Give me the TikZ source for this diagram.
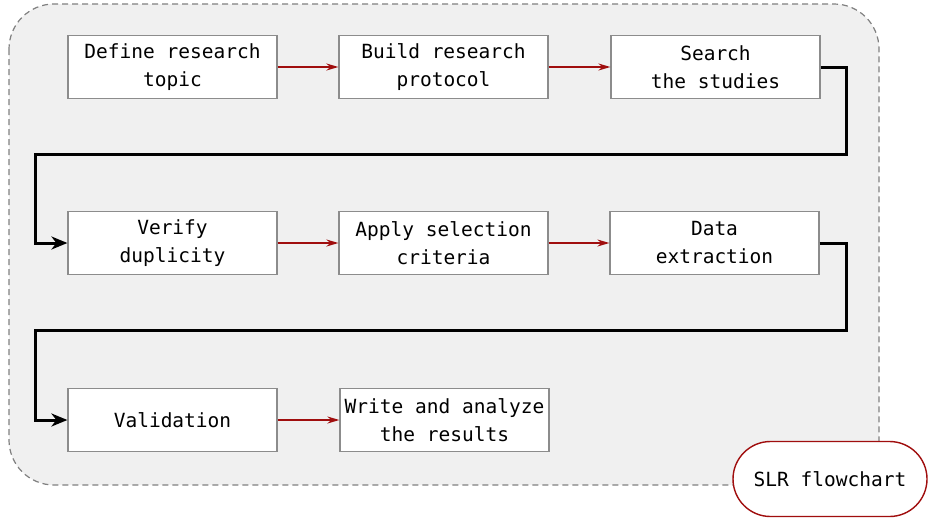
\documentclass[tikz,border=0pt]{standalone}
\usepackage{fontspec}
\setmonofont{DejaVu Sans Mono}
\usetikzlibrary{arrows.meta,shapes.misc}
\definecolor{bgfill}{HTML}{F0F0F0}
\definecolor{boxline}{HTML}{8C8C8C}
\definecolor{darkred}{HTML}{A00E0E}
\tikzset{
  stepbox/.style={draw=boxline, fill=white, line width=1.2pt, minimum width=209pt, minimum height=63pt, align=center, inner sep=0pt,
    font=\fontsize{19.5}{28}\selectfont\ttfamily},
  redarrow/.style={draw=darkred, line width=1.6pt, -{Stealth[length=12pt,width=7pt]}},
  blackarrow/.style={draw=black, line width=3pt, -{Stealth[length=16pt,width=13pt,inset=5pt]}},
}
\begin{document}
\begin{tikzpicture}[x=1pt,y=-1pt]
\useasboundingbox (0,0) rectangle (928,517);
\draw[fill=bgfill, draw=gray, line width=1.2pt, dash pattern=on 6pt off 4pt, rounded corners=45pt] (9,4) rectangle (879,485);

\node[stepbox] (a) at (172.5,67) {Define research\\topic};
\node[stepbox] (b) at (443.5,67) {Build research\\protocol};
\node[stepbox] (c) at (715.5,67) {Search\\the studies};
\node[stepbox] (d) at (172.5,243) {Verify\\duplicity};
\node[stepbox] (e) at (443.5,243) {Apply selection\\criteria};
\node[stepbox] (f) at (714.5,243) {Data\\extraction};
\node[stepbox] (g) at (172.5,420) {Validation};
\node[stepbox] (h) at (444.5,420) {Write and analyze\\the results};

\draw[redarrow] (a) -- (b);
\draw[redarrow] (b) -- (c);
\draw[redarrow] (d) -- (e);
\draw[redarrow] (e) -- (f);
\draw[redarrow] (g) -- (h);

\draw[blackarrow] (c.east) -- (846,67) -- (846,154) -- (35,154) -- (35,243) -- (d.west);
\draw[blackarrow] (f.east) -- (846,243) -- (846,330) -- (35,330) -- (35,420) -- (g.west);

\node[draw=darkred, fill=white, line width=1.4pt, rounded rectangle, minimum width=194pt, minimum height=75pt, inner sep=0pt,
  font=\fontsize{19.5}{28}\selectfont\ttfamily] (t) at (830,479) {SLR flowchart};
\end{tikzpicture}
\end{document}
